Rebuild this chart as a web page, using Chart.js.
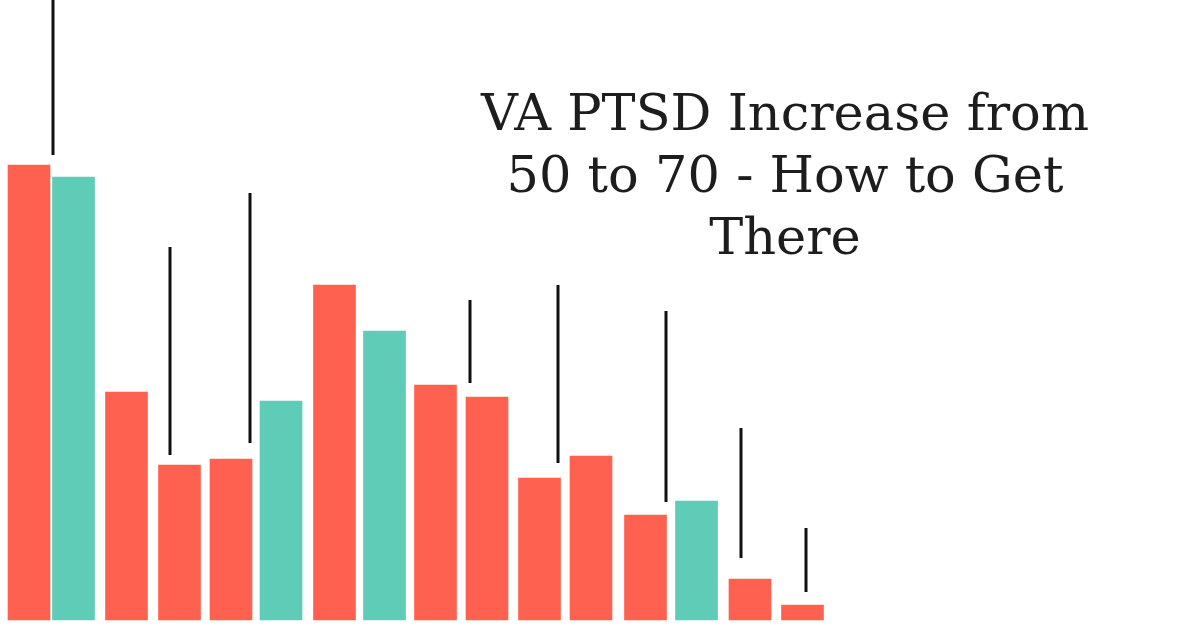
<!DOCTYPE html>
<html><head><meta charset="utf-8">
<script src="https://cdn.jsdelivr.net/npm/chart.js@4.4.0/dist/chart.umd.min.js"></script>
<style>
html,body{margin:0;padding:0;background:#fff;width:1200px;height:628px;overflow:hidden}
#wrap{position:absolute;left:0;top:0;width:1200px;height:628px}
#title{position:absolute;left:385px;width:800px;top:82px;text-align:center;font-family:"DejaVu Serif","Liberation Serif",serif;font-size:51px;line-height:62px;color:#1d1d1d}
</style></head><body>
<div id="wrap"><canvas id="c" width="1200" height="628"></canvas></div>
<div id="title">VA PTSD Increase from<br>50 to 70 - How to Get<br>There</div>
<script>
const barPositions=[29,73.5,126.5,179.5,231,281,334.5,384.5,435.5,487,539.5,591,645.5,696.5,750,802.5];
const barHeights=[455,443,228,155,161,219,335,289,235,223,142,164,105,119,41,15];
const barKinds=['r','t','r','r','r','t','r','t','r','r','r','r','r','t','r','r'];
const lineX=[53,170,250,470,558,666,741,806];
const lineLow=[465,165,177,237,157,118,62,28];
const lineHigh=[628,373,427,320,335,309,192,92];
const colors={r:'#FF6150',t:'#5ECCB6'};
const segs=[];
lineX.forEach((x,i)=>{segs.push({x:x,y:lineLow[i]},{x:x,y:lineHigh[i]},{x:x,y:null});});
new Chart(document.getElementById('c'),{
data:{datasets:[
{type:'bar',data:barPositions.map((x,i)=>({x:x,y:barHeights[i]})),backgroundColor:barKinds.map(k=>colors[k]),barThickness:42,borderWidth:0},
{type:'line',data:segs,borderColor:'#111',borderWidth:3,pointRadius:0,spanGaps:false,fill:false}
]},
options:{responsive:false,animation:false,layout:{padding:0},
plugins:{legend:{display:false},tooltip:{enabled:false}},
scales:{x:{type:'linear',min:0,max:1200,offset:false,display:false,grid:{offset:false}},y:{min:-8,max:620,display:false}}}
});
</script></body></html>
